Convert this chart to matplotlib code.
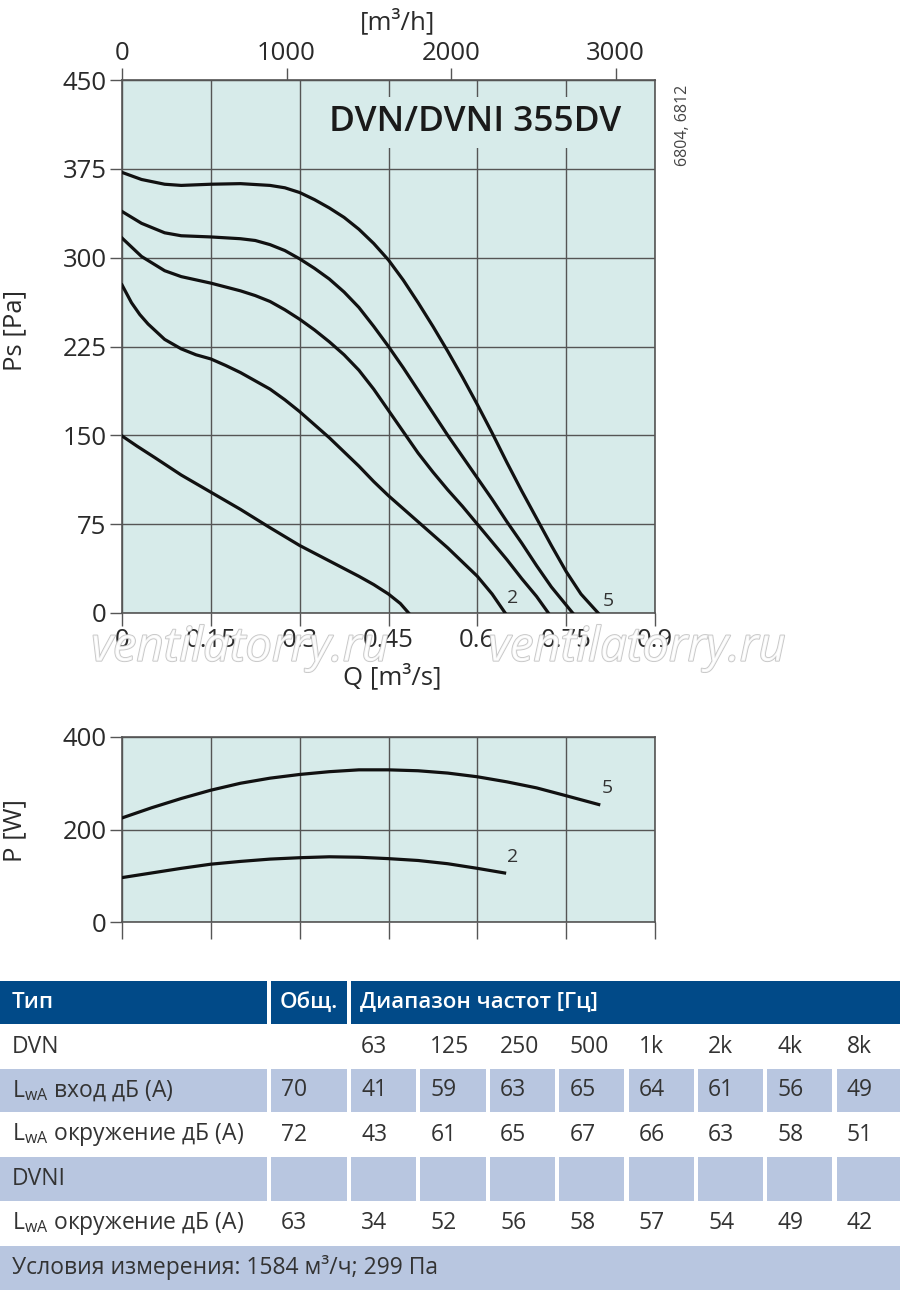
import numpy as np
import matplotlib
matplotlib.use("Agg")
import matplotlib.pyplot as plt
import matplotlib.patheffects as pe
from matplotlib.patches import Rectangle

plt.rcParams['font.family'] = ['Open Sans', 'DejaVu Sans']

# --- fan curves: Q [m3/s] vs Ps [Pa] ---
q1 = [0, 0.025, 0.056, 0.1, 0.15, 0.2, 0.25, 0.3, 0.35, 0.4, 0.425, 0.45, 0.47, 0.484]
ps1 = [149.5, 141, 131, 116.5, 102, 87.5, 72, 57, 44, 31, 24, 16, 8, 0]

q2 = [0, 0.016, 0.03, 0.044, 0.072, 0.1, 0.125, 0.15, 0.175, 0.2, 0.225, 0.25, 0.275,
      0.3, 0.325, 0.35, 0.375, 0.4, 0.425, 0.45, 0.475, 0.5, 0.525, 0.55, 0.575,
      0.6, 0.625, 0.647]
ps2 = [277, 262, 252, 244, 231, 223, 218, 214.5, 209, 203, 196, 189, 180,
       170, 159, 148, 136, 124, 111, 99, 88, 77, 66, 55, 43,
       31, 16, 0]

q3 = [0, 0.033, 0.072, 0.1, 0.15, 0.2, 0.225, 0.25, 0.275, 0.3, 0.325, 0.35, 0.375,
      0.4, 0.425, 0.45, 0.475, 0.5, 0.525, 0.55, 0.575, 0.6, 0.625, 0.65, 0.675,
      0.7, 0.72]
ps3 = [316.6, 301, 289, 284, 278.5, 272, 268, 263, 256, 248, 239, 229, 218,
       205, 189, 171, 153, 135, 119, 104, 90, 75, 60, 45, 29,
       14, 0]

q4 = [0, 0.033, 0.072, 0.1, 0.15, 0.2, 0.225, 0.25, 0.275, 0.3, 0.325, 0.35, 0.375,
      0.4, 0.425, 0.45, 0.475, 0.5, 0.525, 0.55, 0.575, 0.6, 0.625, 0.65, 0.675,
      0.7, 0.725, 0.761]
ps4 = [339, 329, 321, 318.5, 317.5, 316, 314.5, 311, 306, 299, 291, 282, 271,
       258, 242, 225, 207, 188, 169, 150, 132, 114, 96, 77, 59,
       40, 22, 0]

q5 = [0, 0.033, 0.072, 0.1, 0.15, 0.2, 0.25, 0.275, 0.3, 0.325, 0.35, 0.375, 0.4,
      0.425, 0.45, 0.475, 0.5, 0.525, 0.55, 0.575, 0.6, 0.625, 0.65, 0.675, 0.7,
      0.725, 0.75, 0.775, 0.804]
ps5 = [372, 366, 362, 361, 362, 362.5, 361, 359, 355, 349, 342, 334, 324,
       312, 298, 281, 262, 242, 221, 199, 176, 152, 127, 103, 80,
       57, 35, 16, 0]

# --- power curves: Q [m3/s] vs P [W] ---
qp5 = [0, 0.05, 0.1, 0.15, 0.2, 0.25, 0.3, 0.35, 0.4, 0.45, 0.5, 0.55, 0.6, 0.65, 0.7, 0.75, 0.805]
p5 = [225, 247, 267, 285, 300, 311, 319, 325, 329, 329, 327, 322, 314, 303, 290, 273, 254]
qp2 = [0, 0.05, 0.1, 0.15, 0.2, 0.25, 0.3, 0.35, 0.4, 0.45, 0.5, 0.55, 0.6, 0.646]
p2 = [96, 106, 116, 125, 131, 136, 139, 141, 140, 137, 133, 126, 116, 106]

q_ticks = [0, 0.15, 0.3, 0.45, 0.6, 0.75, 0.9]
q_ticklabels = ["0", "0.15", "0.3", "0.45", "0.6", "0.75", "0.9"]
ps_ticks = [0, 75, 150, 225, 300, 375, 450]
m3h_ticks = [0, 1000, 2000, 3000]
p_ticks = [0, 200, 400]

# --- sound table ---
freqs = ["63", "125", "250", "500", "1k", "2k", "4k", "8k"]
row_labels = ["DVN",
              r"$\mathregular{L_{wA}}$ вход дБ (А)",
              r"$\mathregular{L_{wA}}$ окружение дБ (А)",
              "DVNI",
              r"$\mathregular{L_{wA}}$ окружение дБ (А)"]
total = ["", "70", "72", "", "63"]
lwa_in = [41, 59, 63, 65, 64, 61, 56, 49]
lwa_env = [43, 61, 65, 67, 66, 63, 58, 51]
lwa_env_dvni = [34, 52, 56, 58, 57, 54, 49, 42]
conditions = "Условия измерения: 1584 м³/ч; 299 Па"

BG = "#d7ebea"
GRID = "#555555"
TXT = "#2a2a2a"
FS = 18.5
W, H = 900, 1290

fig = plt.figure(figsize=(9, 12.9), dpi=100)


def px_axes(left, top, right, bottom):
    return fig.add_axes([left / W, 1 - bottom / H, (right - left) / W, (bottom - top) / H])


def style_axes(ax):
    ax.set_facecolor(BG)
    ax.set_axisbelow(True)
    ax.grid(True, color=GRID, lw=1.0)
    for s in ax.spines.values():
        s.set_color(GRID)
        s.set_linewidth(1.2)
    ax.tick_params(direction="out", length=9, width=1.0, color=GRID,
                   labelsize=FS, labelcolor=TXT, pad=2)


# ---- Ps chart ----
ax = px_axes(122, 80, 655, 613)
style_axes(ax)
for q, ps in [(q1, ps1), (q2, ps2), (q3, ps3), (q4, ps4), (q5, ps5)]:
    ax.plot(q, ps, color="#111111", lw=2.3, solid_joinstyle="round", zorder=4)
ax.set_xlim(0, 0.9)
ax.set_ylim(0, 450)
ax.set_xticks(q_ticks)
ax.set_xticklabels(q_ticklabels)
ax.set_yticks(ps_ticks)
ax.set_xlabel("Q [m³/s]", fontsize=FS, color=TXT)
ax.xaxis.set_label_coords(0.507, -0.094)
ax.set_ylabel("Ps [Pa]", fontsize=FS, color=TXT)
ax.yaxis.set_label_coords(-0.178, 0.53)
ax.text(0.660, 12.7, "2", fontsize=14, color="#333333", ha="center", va="center", zorder=5)
ax.text(0.821, 10, "5", fontsize=14, color="#333333", ha="center", va="center", zorder=5)
ax.text(0.936, 0.921, "DVN/DVNI 355DV", transform=ax.transAxes, ha="right", va="center",
        fontsize=25.4, fontweight="semibold", color="#1a1a1a", zorder=5,
        bbox=dict(fc=BG, ec="none", pad=6))

sec = ax.secondary_xaxis("top", functions=(lambda v: v * 3600, lambda v: v / 3600))
sec.set_xticks(m3h_ticks)
sec.tick_params(direction="out", length=9, width=1.0, color=GRID,
                labelsize=FS, labelcolor=TXT, pad=1)
sec.spines["top"].set_color(GRID)
fig.text(398 / W, 1 - 22 / H, "[m³/h]", ha="center", va="center", fontsize=FS, color=TXT)

fig.text(683 / W, 1 - 125 / H, "6804, 6812", rotation=90, ha="center", va="center",
         fontsize=11.5, color="#444444")

# ---- P chart ----
axp = px_axes(122, 737, 655, 922)
style_axes(axp)
axp.plot(qp5, p5, color="#111111", lw=2.3, zorder=4)
axp.plot(qp2, p2, color="#111111", lw=2.3, zorder=4)
axp.set_xlim(0, 0.9)
axp.set_ylim(0, 400)
axp.set_xticks(q_ticks)
axp.set_xticklabels([])
axp.set_yticks(p_ticks)
axp.tick_params(axis="x", length=12)
axp.set_ylabel("P [W]", fontsize=FS, color=TXT)
axp.yaxis.set_label_coords(-0.178, 0.497)
axp.text(0.819, 290, "5", fontsize=14, color="#333333", ha="center", va="center")
axp.text(0.660, 140, "2", fontsize=14, color="#333333", ha="center", va="center")

# watermark
for xc in (240, 637):
    fig.text(xc / W, 1 - 648 / H, "ventilatorry.ru", ha="center", va="center",
             fontsize=34, style="italic", color="white", alpha=0.85, zorder=10,
             path_effects=[pe.withStroke(linewidth=1.3, foreground="#bdbdbd")])

# ---- table ----
axt = fig.add_axes([0, 0, 1, 312 / H])
axt.set_xlim(0, W)
axt.set_ylim(1290, 978)
axt.axis("off")

HEAD = "#014a88"
SHADE = "#b8c6e0"
row_top = [981, 1024.5, 1068.7, 1112.7, 1157, 1201, 1245.7]
row_bot = [1024, 1068.5, 1112, 1157, 1200.7, 1245.5, 1290]
col0 = (0, 266.7)
col1 = (270.7, 347.3)
fstart = [351, 420.3, 490, 559.3, 628.7, 698, 767.3, 836.7]
fend = [416, 485.7, 555, 624.3, 693.7, 763.3, 832.3, 900]


def cell(x0, x1, r, color):
    axt.add_patch(Rectangle((x0, row_top[r]), x1 - x0, row_bot[r] - row_top[r],
                            fc=color, ec="none"))


def ycen(r):
    return (row_top[r] + row_bot[r]) / 2


# header
cell(*col0, 0, HEAD)
cell(*col1, 0, HEAD)
cell(351, 900, 0, HEAD)
hd = dict(fontsize=16, fontweight="semibold", color="white", va="center", ha="left")
axt.text(12, ycen(0), "Тип", **hd)
axt.text(col1[0] + 9, ycen(0), "Общ.", **hd)
axt.text(360, ycen(0), "Диапазон частот [Гц]", **hd)

values = [freqs, lwa_in, lwa_env, [""] * 8, lwa_env_dvni]
bd = dict(fontsize=16.5, color="#333333", va="center", ha="left")
for i, lab in enumerate(row_labels):
    r = i + 1
    if r in (2, 4):
        cell(*col0, r, SHADE)
        cell(*col1, r, SHADE)
        for a, b in zip(fstart, fend):
            cell(a, b, r, SHADE)
    axt.text(12, ycen(r), lab, **bd)
    axt.text(col1[0] + 10, ycen(r), total[i], **bd)
    for a, v in zip(fstart, values[i]):
        axt.text(a + 10, ycen(r), str(v), **bd)

cell(0, 900, 6, SHADE)
axt.text(12, ycen(6), conditions, **bd)

fig.savefig("out.png", dpi=100, facecolor="white")
